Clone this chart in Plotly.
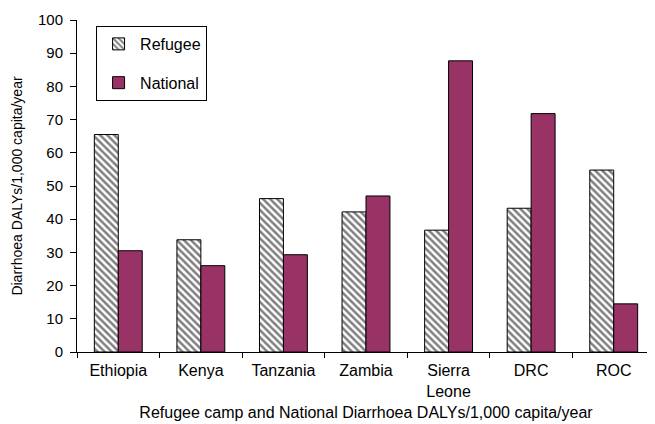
import plotly.graph_objects as go

categories = ["Ethiopia", "Kenya", "Tanzania", "Zambia", "Sierra<br>Leone", "DRC", "ROC"]
refugee = [65.5, 33.8, 46.2, 42.2, 36.7, 43.3, 54.8]
national = [30.5, 26.0, 29.3, 47.0, 87.7, 71.8, 14.5]
y_ticks = [0, 10, 20, 30, 40, 50, 60, 70, 80, 90, 100]

FONT = "Liberation Sans, Arial, Helvetica, sans-serif"

fig = go.Figure()
fig.add_trace(go.Bar(
    x=categories, y=refugee, name="Refugee", legendgroup="a",
    marker=dict(color="white", line=dict(color="black", width=1),
                pattern=dict(shape="\\", size=5, solidity=0.5,
                             fgcolor="black", bgcolor="white")),
))
fig.add_trace(go.Bar(
    x=categories, y=national, name="National", legendgroup="b",
    marker=dict(color="#993366", line=dict(color="black", width=1)),
))

# page body has an 8px default margin, so the figure is sized to fit
fig.update_layout(
    width=647, height=416,
    margin=dict(l=69, r=0, t=12, b=72),
    paper_bgcolor="white", plot_bgcolor="white",
    font=dict(family=FONT, size=16, color="black"),
    barmode="group", bargap=0.42, bargroupgap=0,
    showlegend=True,
    legend=dict(x=0.033, y=0.982, xanchor="left", yanchor="top",
                bordercolor="black", borderwidth=1, bgcolor="white",
                traceorder="grouped", tracegroupgap=15, itemwidth=33,
                font=dict(size=16, family=FONT)),
    xaxis=dict(
        showline=True, linecolor="black", linewidth=1,
        ticks="outside", tickson="boundaries", ticklen=5, tickcolor="black",
        tickfont=dict(size=16), range=[-0.5, 6.5], ticklabelstandoff=4,
        title=dict(text="Refugee camp and National Diarrhoea DALYs/1,000 capita/year",
                   font=dict(size=16), standoff=7),
        automargin=False,
    ),
    yaxis=dict(
        range=[0, 100], tickvals=y_ticks, showgrid=False, zeroline=False,
        showline=True, linecolor="black", linewidth=1,
        ticks="outside", ticklen=6, tickcolor="black",
        tickfont=dict(size=15), ticklabelstandoff=4,
        title=dict(text="Diarrhoea DALYs/1,000 capita/year", font=dict(size=14), standoff=12),
        automargin=False,
    ),
)

fig.write_html("out.html")
